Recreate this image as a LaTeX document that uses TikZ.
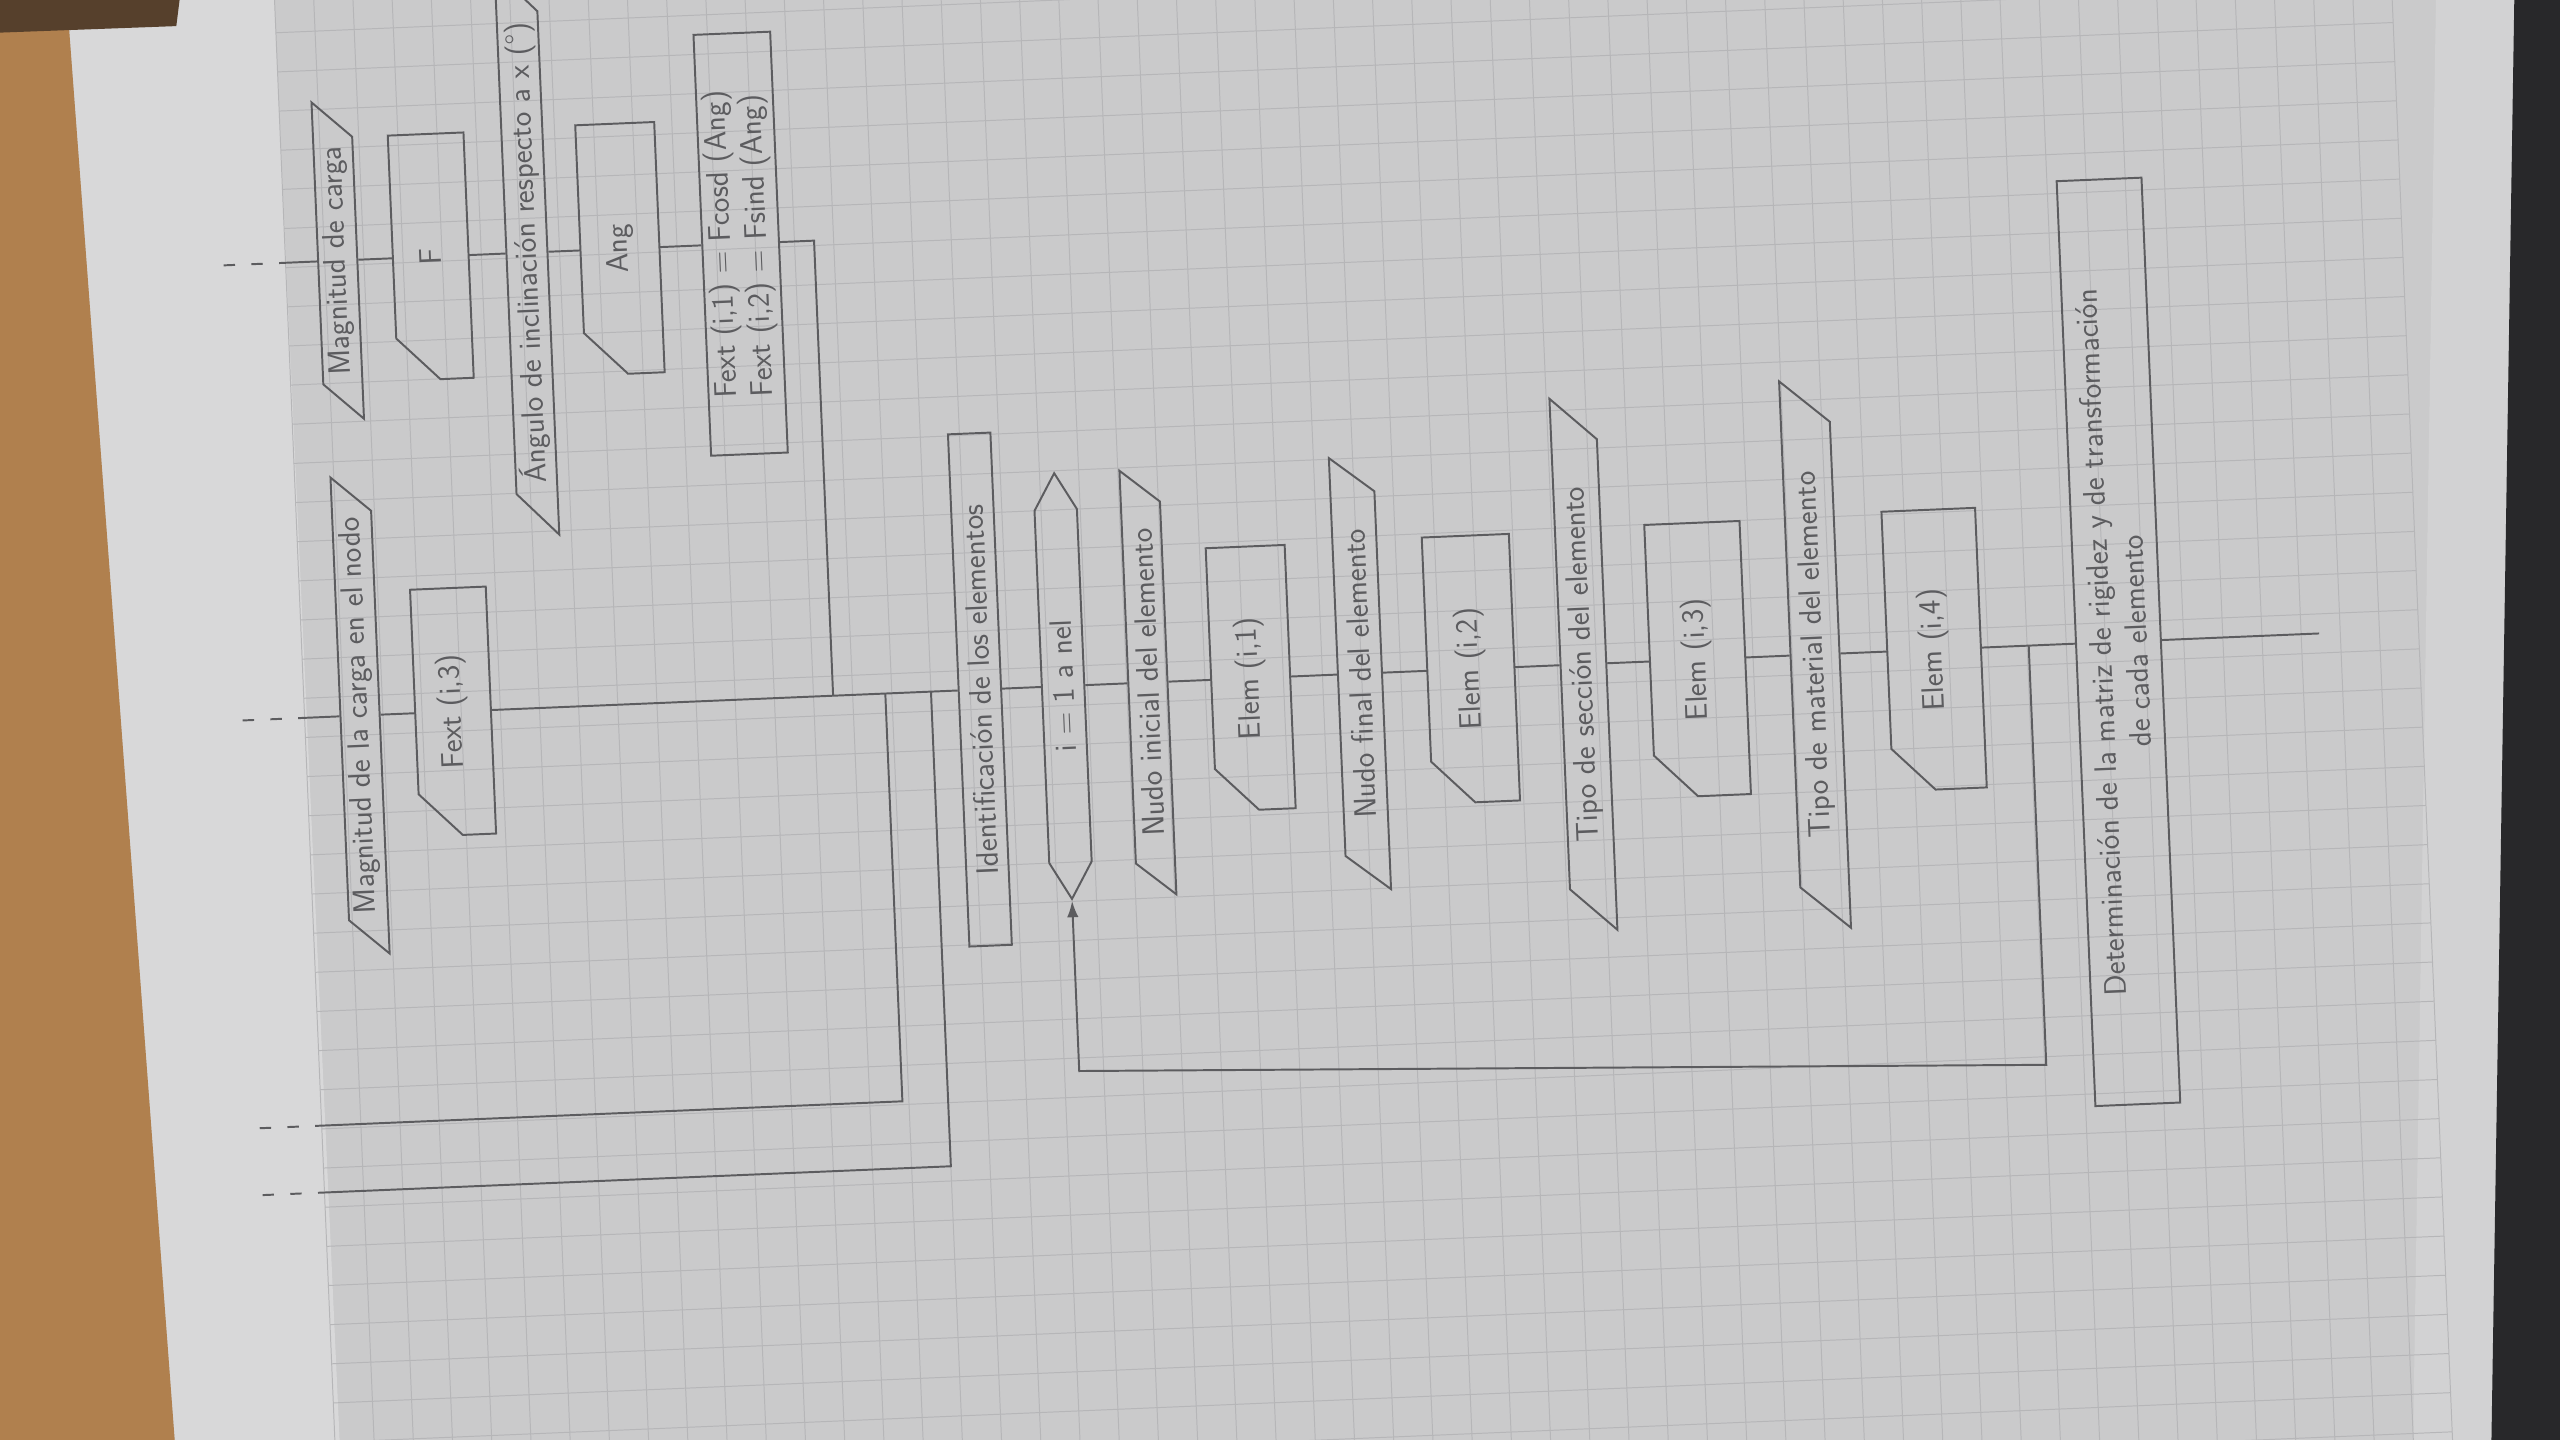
\documentclass[tikz,border=0pt]{standalone}
\usepackage{fontspec}
\usepackage{tikz}
\usetikzlibrary{calc,arrows.meta,shapes.geometric,shapes.symbols}
\definecolor{lapiz}{RGB}{92,92,95}
\definecolor{papel}{RGB}{202,202,203}
\definecolor{claro}{RGB}{216,216,217}
\definecolor{rejilla}{RGB}{182,182,184}
\definecolor{madera}{RGB}{176,128,78}
\definecolor{cafe}{RGB}{86,64,44}
\definecolor{borde}{RGB}{210,210,211}
\definecolor{oscuro}{RGB}{40,40,42}
\tikzset{
  linea/.style={draw=lapiz, line width=1.2pt},
  rotulo/.style={text=lapiz, font=\fontsize{19}{22}\selectfont\sffamily, inner sep=2pt},
  entrada/.style={rotulo, linea, trapezium, trapezium left angle=45, trapezium right angle=135, trapezium stretches=true, minimum height=24},
  tarjeta/.style={rotulo, rectangle, minimum height=48},
  proceso/.style={rotulo, linea, rectangle, minimum height=26, align=center},
  ciclo/.style={rotulo, linea, signal, signal to=east and west, signal pointer angle=60, minimum height=26},
  corte/.style={linea, dash pattern=on 0pt off 10pt on 7pt off 10pt on 7pt},
  cuadro/.style={draw=rejilla, line width=0.6pt},
}
\begin{document}
\begin{tikzpicture}[x=1pt,y=1pt]
  \useasboundingbox (0,0) rectangle (1568,882);
  \clip (0,0) rectangle (1568,882);
  \fill[papel] (0,0) rectangle (1568,882);
  \fill[claro] (41,882) -- (168,882) -- (208,0) -- (107,0) -- cycle;
  \fill[madera] (0,0) -- (107,0) -- (41,882) -- (0,882) -- cycle;
  \fill[cafe] (0,882) -- (110,882) -- (108,866) -- (0,862) -- cycle;
  \fill[borde] (1492,882) -- (1540,882) -- (1526,0) -- (1478,0) -- cycle;
  \fill[oscuro] (1540,882) -- (1568,882) -- (1568,0) -- (1526,0) -- cycle;

  \begin{scope}[shift={(800,468)}, rotate=92.4, transform shape]
    \foreach \k in {0,...,54}
      \draw[cuadro] (-640,{614-24*\k}) -- (640,{614-24*\k});
    \foreach \k in {-27,...,26}
      \draw[cuadro] ({12+24*\k},-682) -- ({12+24*\k},614);

    \node[entrada, minimum width=195] (mag2) at (279,582) {Magnitud de carga};
    \node[tarjeta, minimum width=150, minimum height=46] (fuerza) at (279,525) {F};
    \node[entrada, minimum width=348] (angtxt) at (279,466) {Ángulo de inclinación respecto a x (°)};
    \node[tarjeta, minimum width=153] (ang) at (279,409) {Ang};
    \node[proceso, minimum width=258, minimum height=47, align=left] (fext12) at (279,335)
      {Fext (i,1) = Fcosd (Ang)\\Fext (i,2) = Fsind (Ang)};

    \node[entrada, minimum width=294] (mag1) at (0,580) {Magnitud de la carga en el nodo};
    \node[tarjeta, minimum width=151, minimum height=46] (fext3) at (0,523) {Fext (i,3)};
    \node[proceso, minimum width=314] (ident) at (0,200) {Identificación de los elementos};
    \node[ciclo, minimum width=261] (lazo) at (0,149) {i = 1 a nel};
    \node[entrada, minimum width=261] (nini) at (0,97) {Nudo inicial del elemento};
    \node[tarjeta, minimum width=161] (elem1) at (0,34) {Elem (i,1)};
    \node[entrada, minimum width=266, minimum height=27] (nfin) at (0,-33) {Nudo final del elemento};
    \node[tarjeta, minimum width=163, minimum height=53] (elem2) at (0,-101) {Elem (i,2)};
    \node[entrada, minimum width=327, minimum height=28] (tsec) at (0,-170) {Tipo de sección del elemento};
    \node[tarjeta, minimum width=167, minimum height=58] (elem3) at (0,-240) {Elem (i,3)};
    \node[entrada, minimum width=337, minimum height=30] (tmat) at (0,-312) {Tipo de material del elemento};
    \node[tarjeta, minimum width=171, minimum height=57] (elem4) at (0,-385) {Elem (i,4)};
    \node[proceso, minimum width=567, minimum height=52] (det) at (0,-498)
      {Determinación de la matriz de rigidez y de transformación\\de cada elemento};

    \foreach \n in {fuerza,ang,fext3,elem1,elem2,elem3,elem4}
      \draw[linea] ($(\n.north west)!26pt!(\n.north east)$) -- (\n.north east) -- (\n.south east)
        -- (\n.south west) -- ($(\n.north west)!26pt!(\n.south west)$) -- cycle;

    \coordinate (m2) at (279,618);
    \coordinate (m1) at (0,618);
    \coordinate (cf) at (279,290);
    \coordinate (j1) at (0,290);
    \coordinate (ja) at (0,258);
    \coordinate (ca) at (-250,258);
    \coordinate (ma) at (-250,618);
    \coordinate (jb) at (0,230);
    \coordinate (cb) at (-291,230);
    \coordinate (mb) at (-291,618);
    \coordinate (jl) at (0,-443);
    \coordinate (cl1) at (-257,-443);
    \coordinate (cl2) at (-236,149);
    \coordinate (fin) at (0,-621);

    \draw[linea] (m2) -- (mag2) -- (fuerza) -- (angtxt) -- (ang) -- (fext12) -- (cf) -- (j1);
    \draw[linea] (m1) -- (mag1) -- (fext3) -- (j1) -- (ident) -- (lazo) -- (nini) -- (elem1)
      -- (nfin) -- (elem2) -- (tsec) -- (elem3) -- (tmat) -- (elem4) -- (det) -- (fin);
    \draw[linea] (ja) -- (ca) -- (ma);
    \draw[linea] (jb) -- (cb) -- (mb);
    \draw[linea, -{Latex[length=10pt,width=7pt]}] (jl) -- (cl1) -- (cl2) -- (lazo);
    \draw[corte] (m2) -- ++(0,34);
    \draw[corte] (m1) -- ++(0,34);
    \draw[corte] (ma) -- ++(0,34);
    \draw[corte] (mb) -- ++(0,34);
  \end{scope}
\end{tikzpicture}
\end{document}
